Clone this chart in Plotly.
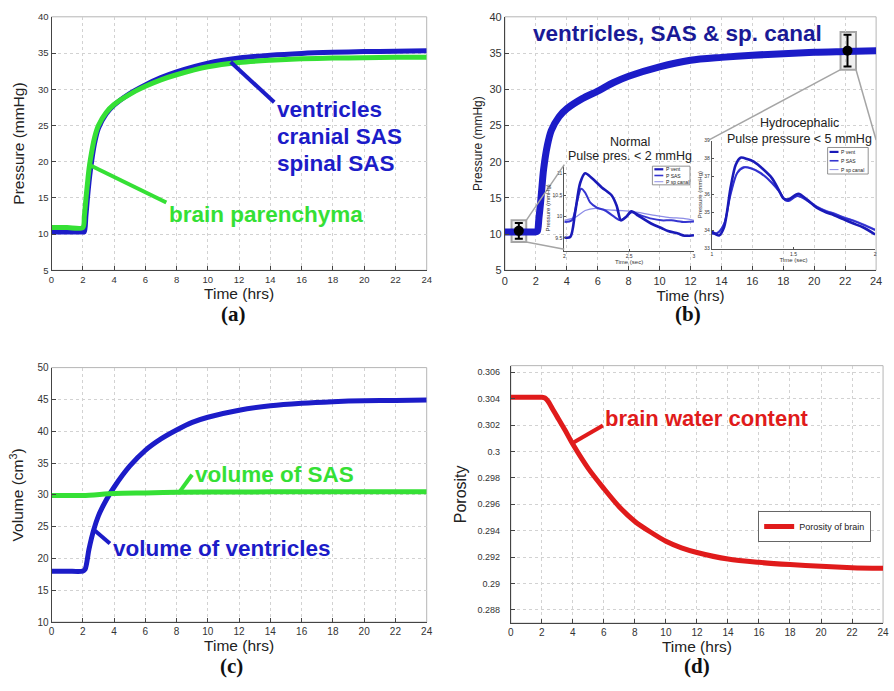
import plotly.graph_objects as go

W, H = 894, 691
def px(x): return x / W
def py(y): return 1 - y / H

SANS = "Liberation Sans, Arial, sans-serif"
SERIF = "Liberation Serif, Times New Roman, serif"
BLUE = "#1c1cc8"
NAVY = "#1a1a96"
GREEN = "#35e035"
RED = "#e01b1b"

# ---------------- data ----------------
# (a) pressures (mmHg) vs time (hrs)
t_a = [0, 1, 2.0, 2.1, 2.2, 2.3, 2.4, 2.5, 2.75, 3, 3.5, 4, 5, 6, 7, 8, 10, 12, 14, 16, 18, 20, 22, 24]
p_csf_a = [10.3, 10.3, 10.3, 10.3, 12.5, 15.0, 17.2, 19.0, 22.5, 24.6, 26.6, 27.8, 29.4, 30.6, 31.6, 32.4, 33.6, 34.3, 34.7, 34.95, 35.1, 35.2, 35.25, 35.3]
p_brain_a = [10.9, 10.9, 10.9, 12.5, 14.8, 17.0, 19.0, 20.5, 23.3, 25.0, 26.8, 27.9, 29.3, 30.4, 31.3, 32.0, 33.1, 33.7, 34.0, 34.2, 34.3, 34.35, 34.4, 34.4]

# (b) CSF pressure (mmHg) vs time (hrs)
t_b = [0, 1, 2.0, 2.1, 2.2, 2.3, 2.4, 2.5, 2.75, 3, 3.5, 4, 5, 6, 7, 8, 10, 12, 14, 16, 18, 20, 22, 24]
p_b = [10.3, 10.3, 10.3, 10.4, 12.2, 14.2, 16.6, 18.9, 22.3, 24.3, 26.2, 27.3, 28.7, 29.75, 30.9, 31.8, 33.1, 34.0, 34.4, 34.7, 34.9, 35.1, 35.2, 35.3]
# sampled pulse points (time hrs, mean pressure, half pulse range)
sample_t = [0.9, 22.15]
sample_p = [10.45, 35.33]
sample_err = [1.1, 2.2]
# zoom boxes around samples: [t0, t1, p0, p1]
box_normal = [0.43, 1.38, 8.9, 11.9]
box_hydro = [21.7, 22.7, 32.7, 37.9]

# inset: normal pulse (time sec, mmHg)
tn_vent = [2.0, 2.046, 2.084, 2.123, 2.161, 2.212, 2.289, 2.366, 2.404, 2.437, 2.473, 2.519, 2.570, 2.673, 2.749, 2.80, 2.877, 2.928, 3.0]
pn_vent = [9.51, 9.52, 10.10, 10.79, 11.01, 10.90, 10.68, 10.49, 10.25, 9.91, 9.98, 10.12, 10.02, 9.83, 9.73, 9.66, 9.60, 9.55, 9.56]
tn_sas = [2.0, 2.059, 2.097, 2.130, 2.161, 2.199, 2.251, 2.315, 2.391, 2.430, 2.473, 2.519, 2.596, 2.673, 2.749, 2.826, 2.928, 3.0]
pn_sas = [9.87, 9.91, 10.33, 10.65, 10.56, 10.33, 10.21, 10.14, 9.98, 9.91, 9.98, 10.10, 10.02, 9.95, 9.91, 9.91, 9.87, 9.88]
tn_sp = [2.0, 2.084, 2.161, 2.238, 2.315, 2.417, 2.519, 2.673, 2.801, 2.928, 3.0]
pn_sp = [9.91, 9.98, 10.14, 10.19, 10.16, 10.14, 10.12, 10.04, 9.98, 9.95, 9.91]

# inset: hydrocephalic pulse (time sec, mmHg)
th_vent = [1.0, 1.045, 1.075, 1.115, 1.146, 1.176, 1.217, 1.257, 1.318, 1.368, 1.409, 1.439, 1.470, 1.530, 1.581, 1.642, 1.702, 1.743, 1.804, 1.864, 1.925, 2.0]
ph_vent = [33.95, 33.74, 34.19, 36.38, 37.65, 38.05, 37.98, 37.83, 37.38, 36.92, 36.28, 35.79, 35.74, 36.05, 35.74, 35.28, 35.01, 34.88, 34.64, 34.41, 34.19, 33.79]
th_sas = [1.0, 1.034, 1.075, 1.115, 1.156, 1.196, 1.237, 1.298, 1.368, 1.419, 1.449, 1.470, 1.524, 1.581, 1.642, 1.702, 1.743, 1.804, 1.864, 1.925, 2.0]
ph_sas = [33.83, 33.86, 34.37, 36.01, 37.20, 37.51, 37.47, 37.20, 36.65, 36.10, 35.69, 35.65, 35.92, 35.69, 35.32, 35.07, 34.96, 34.74, 34.56, 34.34, 34.04]
ph_sp = [33.88, 33.90, 34.40, 36.05, 37.25, 37.55, 37.50, 37.24, 36.70, 36.14, 35.72, 35.68, 35.96, 35.73, 35.36, 35.11, 35.00, 34.78, 34.60, 34.38, 34.08]

# (c) volumes (cm3)
t_c = [0, 1, 2.0, 2.15, 2.4, 2.7, 3, 3.5, 4, 5, 6, 7, 8, 9, 10, 12, 14, 16, 18, 20, 22, 24]
v_vent = [18, 18, 18, 18.3, 21.5, 24.5, 26.7, 29.2, 31.2, 34.5, 37.0, 38.8, 40.2, 41.4, 42.2, 43.3, 44.0, 44.4, 44.65, 44.8, 44.85, 44.9]
t_sas = [0, 2, 4, 6, 8, 12, 16, 20, 24]
v_sas = [29.9, 29.9, 30.2, 30.3, 30.4, 30.45, 30.5, 30.5, 30.5]

# (d) porosity
t_d = [0, 1, 2.0, 2.2, 2.4, 2.7, 3, 3.5, 4, 5, 6, 7, 8, 9, 10, 11, 12, 14, 16, 18, 20, 22, 24]
por = [0.3041, 0.3041, 0.3041, 0.30405, 0.3038, 0.3032, 0.3026, 0.3016, 0.30054, 0.2987, 0.29719, 0.2958, 0.2947, 0.2939, 0.2932, 0.2927, 0.29235, 0.29185, 0.2916, 0.29143, 0.2913, 0.2912, 0.29115]
d_ticks = [0.288, 0.29, 0.292, 0.294, 0.296, 0.298, 0.3, 0.302, 0.304, 0.306]
d_ticktext = ["0.288", "0.29", "0.292", "0.294", "0.296", "0.298", "0.3", "0.302", "0.304", "0.306"]

x_ticks = list(range(0, 25, 2))

# ---------------- traces ----------------
def ln(color, width):
    return dict(color=color, width=width, shape="spline", smoothing=0.8)

fig = go.Figure()
fig.add_trace(go.Scatter(x=t_a, y=p_csf_a, mode="lines", line=ln(BLUE, 5), xaxis="x", yaxis="y", showlegend=False, name="ventricles"))
fig.add_trace(go.Scatter(x=t_a, y=p_brain_a, mode="lines", line=ln(GREEN, 5), xaxis="x", yaxis="y", showlegend=False, name="brain parenchyma"))

fig.add_trace(go.Scatter(x=t_b, y=p_b, mode="lines", line=ln(BLUE, 7), xaxis="x2", yaxis="y2", showlegend=False, name="CSF"))
fig.add_trace(go.Scatter(x=sample_t, y=sample_p, mode="markers", marker=dict(color="black", size=10),
                         error_y=dict(type="data", array=sample_err, color="black", thickness=2, width=4),
                         xaxis="x2", yaxis="y2", showlegend=False, name="samples"))

fig.add_trace(go.Scatter(x=t_c, y=v_vent, mode="lines", line=ln(BLUE, 5), xaxis="x3", yaxis="y3", showlegend=False, name="volume of ventricles"))
fig.add_trace(go.Scatter(x=t_sas, y=v_sas, mode="lines", line=ln(GREEN, 5), xaxis="x3", yaxis="y3", showlegend=False, name="volume of SAS"))

fig.add_trace(go.Scatter(x=t_d, y=por, mode="lines", line=ln(RED, 5), xaxis="x4", yaxis="y4", showlegend=True, name="Porosity of brain"))

# insets
fig.add_trace(go.Scatter(x=tn_sp, y=pn_sp, mode="lines", line=ln("#8c8ce6", 1.3), xaxis="x5", yaxis="y5", showlegend=False, name="P sp canal"))
fig.add_trace(go.Scatter(x=tn_sas, y=pn_sas, mode="lines", line=ln("#3535d0", 2), xaxis="x5", yaxis="y5", showlegend=False, name="P SAS"))
fig.add_trace(go.Scatter(x=tn_vent, y=pn_vent, mode="lines", line=ln("#1a1ab8", 2.6), xaxis="x5", yaxis="y5", showlegend=False, name="P vent"))

fig.add_trace(go.Scatter(x=th_sas, y=ph_sp, mode="lines", line=ln("#7a7ae0", 1.3), xaxis="x6", yaxis="y6", showlegend=False, name="P sp canal"))
fig.add_trace(go.Scatter(x=th_sas, y=ph_sas, mode="lines", line=ln("#3030d0", 2), xaxis="x6", yaxis="y6", showlegend=False, name="P SAS"))
fig.add_trace(go.Scatter(x=th_vent, y=ph_vent, mode="lines", line=ln("#1a1ab8", 2.6), xaxis="x6", yaxis="y6", showlegend=False, name="P vent"))

# ---------------- axes ----------------
def main_x(domain, anchor, tsize=10, title_size=15.5):
    return dict(domain=domain, anchor=anchor, range=[0, 24], tickvals=x_ticks,
                showgrid=True, gridcolor="#d2d2d2", griddash="dot", gridwidth=1,
                showline=True, linecolor="#444", linewidth=1, ticks="inside", ticklen=4,
                tickcolor="#444", zeroline=False, tickfont=dict(size=tsize, color="#333", family=SANS),
                title=dict(text="Time (hrs)", font=dict(size=title_size, color="#222", family=SANS), standoff=2))

def main_y(domain, anchor, rng, title, tickvals=None, ticktext=None, tsize=10, title_size=15.5, standoff=6, tls=None):
    d = dict(domain=domain, anchor=anchor, range=rng,
             showgrid=True, gridcolor="#d2d2d2", griddash="dot", gridwidth=1,
             showline=True, linecolor="#444", linewidth=1, ticks="inside", ticklen=4,
             tickcolor="#444", zeroline=False, tickfont=dict(size=tsize, color="#333", family=SANS),
             title=dict(text=title, font=dict(size=title_size, color="#222", family=SANS), standoff=standoff))
    if tickvals is not None:
        d["tickvals"] = tickvals
        d["ticktext"] = ticktext
    if tls is not None:
        d["ticklabelstandoff"] = tls
    return d

p_ticks = list(range(5, 41, 5))
v_ticks = list(range(10, 51, 5))

def inset_axis(domain, anchor, rng, tickvals, title):
    return dict(domain=domain, anchor=anchor, range=rng, tickvals=tickvals,
                showgrid=False, showline=True, linecolor="#555", linewidth=1, ticks="inside", ticklen=2,
                tickcolor="#555", zeroline=False, tickfont=dict(size=5, color="#333", family=SANS),
                title=dict(text=title, font=dict(size=6, color="#333", family=SANS), standoff=1))

fig.update_layout(
    width=W, height=H, margin=dict(l=0, r=0, t=0, b=0),
    paper_bgcolor="white", plot_bgcolor="rgba(0,0,0,0)",
    font=dict(family=SANS),
    xaxis=main_x([px(49), px(428)], "y", tsize=9.5),
    yaxis=main_y([py(269), py(11)], "x", [5, 40], "Pressure (mmHg)", tickvals=p_ticks, ticktext=[str(v) for v in p_ticks], tsize=9.5, standoff=9),
    xaxis2=main_x([px(507), px(882)], "y2", tsize=11, title_size=15),
    yaxis2=main_y([py(269), py(11)], "x2", [5, 40], "Pressure (mmHg)", tickvals=p_ticks, ticktext=[str(v) for v in p_ticks], tsize=11, title_size=12, standoff=4),
    xaxis3=main_x([px(49), px(428)], "y3"),
    yaxis3=main_y([py(627), py(368)], "x3", [10, 50], "Volume (cm<sup>3</sup>)", tickvals=v_ticks, ticktext=[str(v) for v in v_ticks], standoff=9),
    xaxis4=main_x([px(513), px(889)], "y4"),
    yaxis4=main_y([py(628), py(366)], "x4", [0.287, 0.3065], "Porosity", tickvals=d_ticks, ticktext=d_ticktext, tsize=9, title_size=16, tls=8),
    xaxis5=inset_axis([px(567), px(698)], "y5", [2, 3], [2, 2.5, 3], "Time (sec)"),
    yaxis5=inset_axis([py(249), py(162)], "x5", [9.2, 11.2], [9.5, 10, 10.5, 11], "Pressure (mmHg)"),
    xaxis6=inset_axis([px(716), px(881)], "y6", [1, 2], [1, 1.5, 2], "Time (sec)"),
    yaxis6=inset_axis([py(247), py(137)], "x6", [33, 39], [33, 34, 35, 36, 37, 38, 39], "Pressure (mmHg)"),
    legend=dict(x=px(877), xanchor="right", y=py(514), yanchor="top", bgcolor="white",
                bordercolor="#666", borderwidth=1, font=dict(size=9, color="#222", family=SANS),
                itemwidth=30, tracegroupgap=0),
)

shapes = []
annots = []

# frames (light top/right edges)
for xr, yr in [("x", "y"), ("x2", "y2"), ("x3", "y3"), ("x4", "y4")]:
    shapes.append(dict(type="rect", xref=xr + " domain", yref=yr + " domain", x0=0, x1=1, y0=0, y1=1,
                       line=dict(color="#b5b5b5", width=1), layer="below"))

# zoom boxes & connectors in (b)
GRAY = "#a5a5a5"
for b in (box_normal, box_hydro):
    shapes.append(dict(type="rect", xref="x2", yref="y2", x0=b[0], x1=b[1], y0=b[2], y1=b[3],
                       line=dict(color=GRAY, width=2), fillcolor="rgba(190,190,190,0.25)", layer="below"))
inset_n_left = 3.84
inset_n_top, inset_n_bot = 19.6, 7.9
shapes.append(dict(type="line", xref="x2", yref="y2", x0=box_normal[1], y0=box_normal[3], x1=inset_n_left, y1=inset_n_top, line=dict(color=GRAY, width=1.5)))
shapes.append(dict(type="line", xref="x2", yref="y2", x0=box_normal[1], y0=box_normal[2], x1=inset_n_left, y1=inset_n_bot, line=dict(color=GRAY, width=1.5)))
shapes.append(dict(type="line", xref="x2", yref="y2", x0=box_hydro[0], y0=box_hydro[2], x1=13.2, y1=23.0, line=dict(color=GRAY, width=1.5)))
shapes.append(dict(type="line", xref="x2", yref="y2", x0=box_hydro[1], y0=box_hydro[2], x1=24.0, y1=23.0, line=dict(color=GRAY, width=1.5)))

# leader lines (pixel positions -> paper)
def leader(x0, y0, x1, y1, color):
    shapes.append(dict(type="line", xref="paper", yref="paper", x0=px(x0), y0=py(y0), x1=px(x1), y1=py(y1),
                       line=dict(color=color, width=4)))

def label(x, y, text, color, size=22.5, xanchor="left", bold=True, family=SANS):
    annots.append(dict(xref="paper", yref="paper", x=px(x), y=py(y), text=("<b>%s</b>" % text) if bold else text,
                       showarrow=False, xanchor=xanchor, yanchor="middle",
                       font=dict(size=size, color=color, family=family)))

# (a)
leader(274, 98, 230, 57, BLUE)
label(275, 105, "ventricles", BLUE)
label(275, 133, "cranial SAS", BLUE)
label(275, 160, "spinal SAS", BLUE)
leader(165, 200, 88, 162, GREEN)
label(166, 212, "brain parenchyma", GREEN)
# (b)
label(681, 28, "ventricles, SAS &amp; sp. canal", NAVY, xanchor="center")
label(633, 138, "Normal", "#222", size=12.5, xanchor="center", bold=False)
label(633, 153, "Pulse pres. &lt; 2 mmHg", "#222", size=12.5, xanchor="center", bold=False)
label(805, 119, "Hydrocephalic", "#222", size=12.5, xanchor="center", bold=False)
label(805, 135, "Pulse pressure &lt; 5 mmHg", "#222", size=12.5, xanchor="center", bold=False)
# (c)
leader(191, 477, 178, 495, GREEN)
label(192, 477, "volume of SAS", GREEN)
leader(108, 547, 93, 534, BLUE)
label(109, 552, "volume of ventricles", BLUE)
# (d)
leader(606, 427, 575, 445, RED)
label(606, 420, "brain water content", RED, size=22)

# panel letters
for x, y, t in [(233, 313, "(a)"), (692, 313, "(b)"), (231, 672, "(c)"), (701, 672, "(d)")]:
    label(x, y, t, "#111", size=21, xanchor="center", family=SERIF)

# inset legends (manual, tiny)
def mini_legend(x0, y0, x1, y1, entries, fsize):
    shapes.append(dict(type="rect", xref="paper", yref="paper", x0=px(x0), x1=px(x1), y0=py(y1), y1=py(y0),
                       line=dict(color="#777", width=0.8), fillcolor="white"))
    n = len(entries)
    step = (y1 - y0) / n
    for i, (name, color, w) in enumerate(entries):
        yy = y0 + step * (i + 0.5)
        shapes.append(dict(type="line", xref="paper", yref="paper", x0=px(x0 + 2), x1=px(x0 + 11), y0=py(yy), y1=py(yy),
                           line=dict(color=color, width=w)))
        annots.append(dict(xref="paper", yref="paper", x=px(x0 + 12), y=py(yy), text=name, showarrow=False,
                           xanchor="left", yanchor="middle", font=dict(size=fsize, color="#222", family=SANS)))

legend_entries = [("P vent", "#1a1ab8", 2.2), ("P SAS", "#3535d0", 1.6), ("P sp canal", "#8c8ce6", 1)]
mini_legend(656, 163, 694, 182, legend_entries, 5)
mini_legend(833, 144, 874, 171, legend_entries, 5)

fig.update_layout(shapes=shapes, annotations=annots)
fig.write_html("out.html")
